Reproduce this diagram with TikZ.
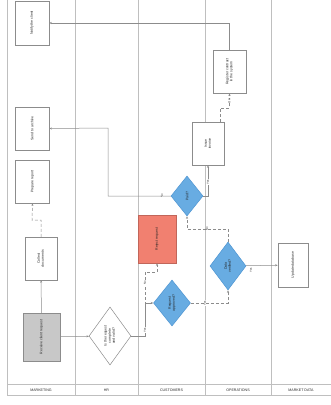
\documentclass[tikz,border=0pt]{standalone}
\usepackage{fontspec}
\setmainfont{Liberation Sans}
\usetikzlibrary{shapes.geometric,arrows.meta}
\definecolor{stepblue}{RGB}{104,172,226}
\definecolor{stepblueline}{RGB}{80,150,210}
\definecolor{stepred}{RGB}{241,128,112}
\definecolor{stepgrey}{RGB}{200,200,200}
\begin{document}
\begin{tikzpicture}[x=1pt,y=-1pt,
  lane/.style={draw=black!25,line width=0.7pt},
  box/.style={draw=black!45,fill=white,line width=0.5pt,inner sep=0pt,
    font=\fontsize{3.5}{4.1}\selectfont,text=black!85},
  grey box/.style={box,fill=stepgrey},
  red box/.style={box,fill=stepred,draw=stepred!80!black},
  decision/.style={diamond,draw=black!45,fill=white,line width=0.5pt,inner sep=0pt,
    font=\fontsize{3.5}{4.1}\selectfont,text=black!85},
  blue decision/.style={decision,fill=stepblue,draw=stepblueline},
  flow/.style={draw=black!45,line width=0.5pt,-{Stealth[length=2.5pt,width=2pt]}},
  soft/.style={flow,densely dashed},
  tag/.style={fill=white,inner sep=0.4pt,font=\fontsize{2.8}{3.2}\selectfont,text=black!85},
  lanelabel/.style={font=\fontsize{3.6}{4}\selectfont,text=black!85}
]
\useasboundingbox (0,0) rectangle (331,405);

% swimlanes
\foreach \x in {7,75,138,205,271} \draw[lane] (\x,0) -- (\x,395);
\draw[lane] (7,384) -- (331,384);
\draw[lane] (7,395) -- (331,395);
\node[lanelabel] (l1) at (41,390) {MARKETING};
\node[lanelabel] (l2) at (106.5,390) {HR};
\node[lanelabel] (l3) at (171.5,390) {CUSTOMERS};
\node[lanelabel] (l4) at (238,390) {OPERATIONS};
\node[lanelabel] (l5) at (301,390) {MARKET DATA};

% process steps
\node[box,minimum width=34pt,minimum height=44pt] (A) at (32,23)
  {\rotatebox{90}{Notify the client}};
\node[box,minimum width=34pt,minimum height=43pt] (B) at (32,128.5)
  {\rotatebox{90}{Send to archive}};
\node[box,minimum width=34pt,minimum height=43pt] (C) at (32.5,181.5)
  {\rotatebox{90}{Prepare report}};
\node[box,minimum width=32pt,minimum height=43pt] (D) at (41,258.5)
  {\rotatebox{90}{\begin{tabular}{@{}c@{}}Collect\\documents\end{tabular}}};
\node[grey box,minimum width=37pt,minimum height=48pt] (E) at (41.5,337)
  {\rotatebox{90}{Receive client request}};
\node[decision,minimum width=42pt,minimum height=58pt] (Q1) at (110,336)
  {\rotatebox{90}{\begin{tabular}{@{}c@{}}Is the request\\complete\\and valid?\end{tabular}}};
\node[red box,minimum width=38pt,minimum height=48pt] (R) at (157,239)
  {\rotatebox{90}{Reject request}};
\node[blue decision,minimum width=37pt,minimum height=46pt] (Q2) at (172,303)
  {\rotatebox{90}{\begin{tabular}{@{}c@{}}Request\\approved?\end{tabular}}};
\node[blue decision,minimum width=32pt,minimum height=40pt] (Q3) at (187,196)
  {\rotatebox{90}{Paid?}};
\node[box,minimum width=32pt,minimum height=43pt] (G) at (208,143.5)
  {\rotatebox{90}{\begin{tabular}{@{}c@{}}Issue\\invoice\end{tabular}}};
\node[box,minimum width=33pt,minimum height=43pt] (H) at (229.5,71.5)
  {\rotatebox{90}{\begin{tabular}{@{}c@{}}Register contract\\in the system\end{tabular}}};
\node[blue decision,minimum width=36pt,minimum height=48pt] (Q4) at (228,266)
  {\rotatebox{90}{\begin{tabular}{@{}c@{}}Data\\verified?\end{tabular}}};
\node[box,minimum width=30pt,minimum height=44pt] (F) at (293,265)
  {\rotatebox{90}{Update database}};

% connectors
\draw[flow] (E) -- (D);
\draw[soft] (D.north) |- (32,220) -- (C.south);
\draw[flow] (E) -- (Q1);
\draw[flow] (Q1.east) -| (145,303) -- (Q2.west);
\draw[soft] (Q1.east) -| (145,272) -| (R.south);
\draw[soft] (Q2.east) -| (Q4.south);
\draw[flow] (Q4) -- (F);
\draw[soft] (Q4.north) |- (187,229) -- (Q3.south);
\draw[flow] (Q3.east) -| (G.south);
\draw[flow] (Q3.west) -| (108,128) -- (B.east);
\draw[soft] ([xshift=12pt]G.north) |- (229.5,108) -- (H.south);
\draw[flow] (H.north) |- (A.east);

% branch labels
\node[tag,rotate=90] (t1) at (145,330) {Yes};
\node[tag,rotate=90] (t2) at (145,283) {No};
\node[tag,rotate=90] (t3) at (205,303) {Yes};
\node[tag,rotate=90] (t4) at (207,229) {No};
\node[tag,rotate=90] (t5) at (208,182) {Yes};
\node[tag,rotate=90] (t6) at (162,196) {No};
\node[tag,rotate=90] (t7) at (251,270) {Yes};
\node[tag,rotate=90] (t8) at (229.5,101) {OK};
\end{tikzpicture}
\end{document}
